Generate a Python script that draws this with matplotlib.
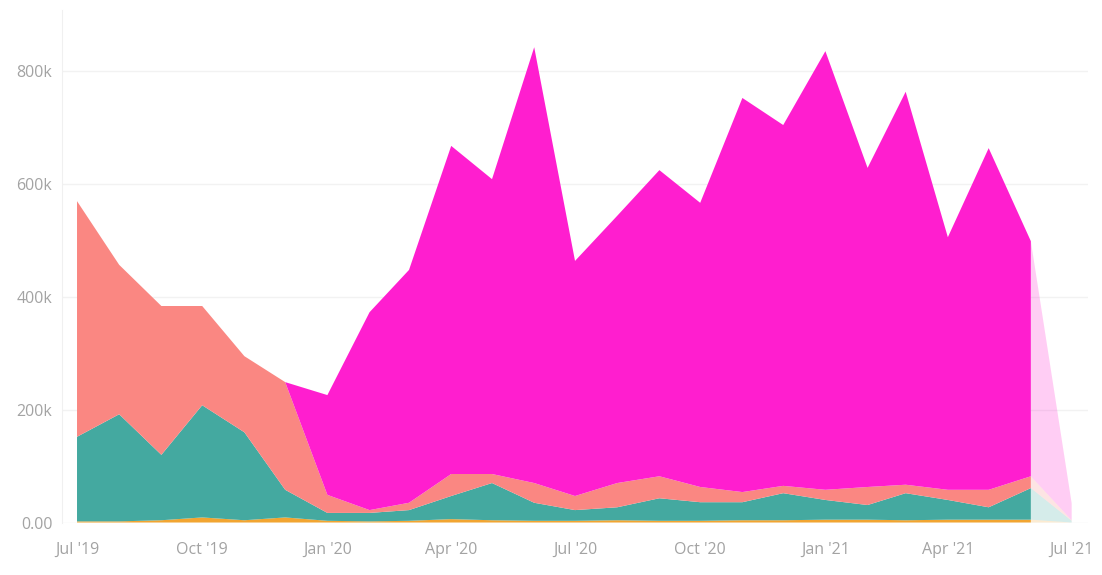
import datetime as dt
import matplotlib
matplotlib.use("Agg")
import matplotlib.pyplot as plt
import matplotlib.dates as mdates
from matplotlib.ticker import FuncFormatter

# monthly values, Jul 2019 .. Jul 2021 (last month is partial, drawn faded)
months = [dt.date(2019 + (6 + i) // 12, (6 + i) % 12 + 1, 1) for i in range(25)]

orange = [2, 2, 4, 9, 4, 9, 3, 2, 3, 6, 4, 3, 3, 4, 3, 3, 4, 4, 5, 5, 4, 5, 5, 5, 0]
teal = [150, 190, 116, 199, 156, 49, 14, 15, 19, 41, 66, 32, 19, 23, 40, 33,
        32, 48, 35, 26, 48, 35, 22, 56, 3]
salmon = [418, 265, 264, 176, 135, 191, 32, 5, 13, 39, 16, 35, 25, 43, 39, 27,
          18, 13, 18, 32, 15, 18, 31, 21, 1]
magenta = [0, 0, 0, 0, 0, 0, 177, 351, 413, 582, 523, 773, 417, 474, 543, 504,
           699, 640, 778, 566, 697, 448, 606, 417, 30]

series = [[v * 1000 for v in s] for s in (orange, teal, salmon, magenta)]
colors = ["#F2A531", "#44A9A0", "#FA8782", "#FF1ECF"]

fig = plt.figure(figsize=(11.02, 5.75), dpi=100)
ax = fig.add_axes([0.0563, 0.0913, 0.931, 0.8913])

# complete months
ax.stackplot(months[:24], *[s[:24] for s in series], colors=colors, linewidth=0)
# last (partial) month, faded
ax.stackplot(months[23:], *[s[23:] for s in series], colors=colors, linewidth=0, alpha=0.22)

ax.set_xlim(dt.date(2019, 6, 20), dt.date(2021, 7, 13))
ax.set_ylim(0, 909000)

ax.set_yticks([0, 200000, 400000, 600000, 800000])
ax.yaxis.set_major_formatter(FuncFormatter(lambda v, p: "0.00" if v == 0 else f"{int(v / 1000)}k"))
ticks = [dt.date(2019, 7, 1), dt.date(2019, 10, 1), dt.date(2020, 1, 1), dt.date(2020, 4, 1),
         dt.date(2020, 7, 1), dt.date(2020, 10, 1), dt.date(2021, 1, 1), dt.date(2021, 4, 1),
         dt.date(2021, 7, 1)]
ax.set_xticks(ticks)
ax.xaxis.set_major_formatter(mdates.DateFormatter("%b '%y"))

ax.grid(axis="y", color="#f2f2f2", linewidth=1)
ax.set_axisbelow(True)
for side in ("top", "right", "bottom"):
    ax.spines[side].set_visible(False)
ax.spines["left"].set_color("#f0f0f0")
ax.tick_params(length=0, labelsize=11.5, labelcolor="#a3a3a3")
ax.tick_params(axis="y", pad=7)
ax.tick_params(axis="x", pad=14)
for lab in ax.get_xticklabels() + ax.get_yticklabels():
    lab.set_family("Open Sans")

fig.savefig("out.png", dpi=100, facecolor="white")
